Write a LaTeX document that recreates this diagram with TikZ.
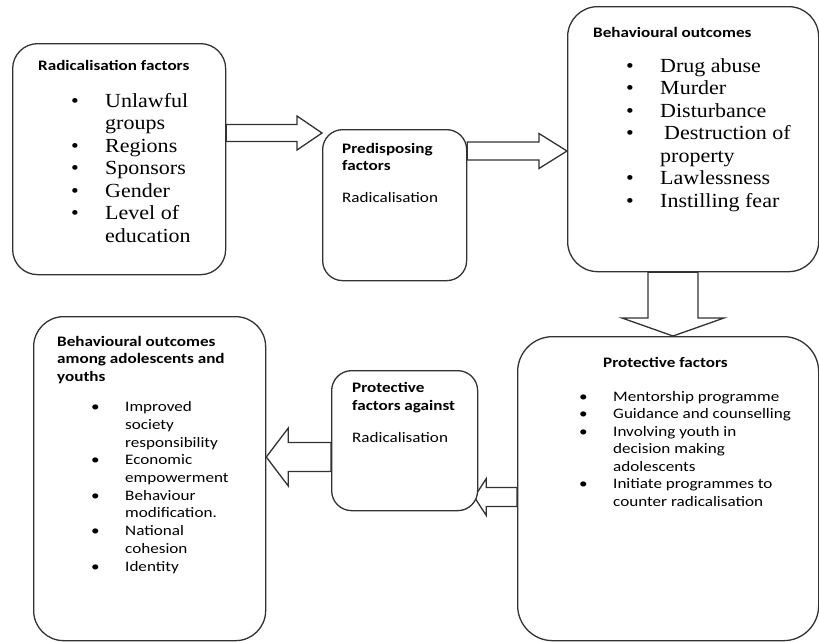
\documentclass[tikz,border=0pt]{standalone}
\usepackage{fontspec}
\setmainfont{Liberation Serif}[FakeStretch=1.1]
\newfontfamily\calib{Carlito}[FakeStretch=1.18]
\usepackage{tikz}
\usetikzlibrary{calc}
\usetikzlibrary{backgrounds}
\definecolor{boxgray}{RGB}{50,50,50}
\newlength\bulwd
\setlength\bulwd{34pt}
\newcommand\bul{\makebox[\bulwd][l]{\textbullet}}
\newcommand\ind{\hspace*{\bulwd}}
% block arrows: tail, tip, shaft half width, head half width, head length
\newcommand\blockarrowh[5]{\draw[blockarrow] let \p1=(#1), \p2=(#2) in
  (\x1,\y1+#3) -- (\x2-#5,\y1+#3) -- (\x2-#5,\y1+#4) -- (\x2,\y1)
  -- (\x2-#5,\y1-#4) -- (\x2-#5,\y1-#3) -- (\x1,\y1-#3) -- cycle;}
\newcommand\blockarrowv[5]{\draw[blockarrow] let \p1=(#1), \p2=(#2) in
  (\x1+#3,\y1) -- (\x1+#3,\y2+#5) -- (\x1+#4,\y2+#5) -- (\x1,\y2)
  -- (\x1-#4,\y2+#5) -- (\x1-#3,\y2+#5) -- (\x1-#3,\y1) -- cycle;}
% text nodes sit on the baseline of their last line
\tikzset{
  roundbox/.style={draw=boxgray, line width=1.3pt, fill=white, rounded corners=#1, anchor=north west, inner sep=0pt},
  blockarrow/.style={draw=boxgray, line width=1.3pt, fill=white, line join=miter},
  boxhead/.style={anchor=base west, align=left, inner sep=0pt, font={\calib\bfseries\fontsize{14.5}{#1}\selectfont}},
  sansbody/.style={anchor=base west, align=left, inner sep=0pt, font={\calib\fontsize{14.5}{#1}\selectfont}},
  serifbody/.style={anchor=base west, align=left, inner sep=0pt, font={\fontsize{20}{22.5}\selectfont}}
}

\begin{document}
\begin{tikzpicture}[x=1pt, y=-1pt]
\useasboundingbox (0,0) rectangle (819,641);
\clip (0,0) rectangle (819,641);

% boxes
\node[roundbox=25pt, minimum width=213pt, minimum height=231pt] (radfac) at (12,43) {};
\node[roundbox=20pt, minimum width=144pt, minimum height=151pt] (predis) at (322,129) {};
\node[roundbox=30pt, minimum width=251pt, minimum height=265pt] (behout) at (567,6) {};
\node[roundbox=35pt, minimum width=301pt, minimum height=304pt] (protfac) at (517,336) {};
\node[roundbox=20pt, minimum width=146pt, minimum height=140pt] (protag) at (331,370) {};
\node[roundbox=30pt, minimum width=232pt, minimum height=324pt] (youthout) at (33,316) {};

% arrow ends
\coordinate (radfacout) at ($(radfac.north east)+(0,90)$);
\coordinate (predisout) at ($(predis.north east)+(0,22)$);
\coordinate (behoutout) at ($(behout.south west)+(106,0)$);
\coordinate (protfacout) at ($(protfac.north west)+(0,161)$);
\coordinate (protagin) at ($(protag.east)+(-4,0)$);
\coordinate (protagout) at ($(protag.north west)+(0,87)$);

% block arrows behind the boxes
\begin{pgfonlayer}{background}
\blockarrowh{radfacout}{predis.west}{8.5pt}{17pt}{25pt}
\blockarrowh{predisout}{behout.west}{9pt}{17.5pt}{28pt}
\blockarrowv{behoutout}{protfac.north}{25pt}{51pt}{18pt}
\blockarrowh{protfacout}{protagin}{9.5pt}{18.5pt}{-12pt}
\blockarrowh{protagout}{youthout.east}{14.5pt}{29pt}{-22pt}
\end{pgfonlayer}

% radicalisation factors
\node[boxhead=17.5pt] (radfachead) at ([shift={(26,27)}]radfac.north west) {Radicalisation factors};
\node[serifbody] (radfaclist) at ([shift={(59,199)}]radfac.north west)
  {\bul Unlawful\\ \ind groups\\ \bul Regions\\ \bul Sponsors\\ \bul Gender\\ \bul Level of\\ \ind education};

% predisposing factors
\node[boxhead=17pt] (predishead) at ([shift={(20,41)}]predis.north west) {Predisposing\\factors};
\node[sansbody=17pt] (predistext) at ([shift={(20,73)}]predis.north west) {Radicalisation};

% behavioural outcomes
\node[boxhead=17.5pt] (behouthead) at ([shift={(26,31)}]behout.north west) {Behavioural outcomes};
\node[serifbody] (behoutlist) at ([shift={(59,201)}]behout.north west)
  {\bul Drug abuse\\ \bul Murder\\ \bul Disturbance\\ \bul \hspace{4pt}Destruction of\\ \ind property\\ \bul Lawlessness\\ \bul Instilling fear};

% protective factors
\node[boxhead=17.5pt] (protfachead) at ([shift={(86,31)}]protfac.north west) {Protective factors};
\node[sansbody=17.5pt] (protfaclist) at ([shift={(62,170)}]protfac.north west)
  {\bul Mentorship programme\\ \bul Guidance and counselling\\ \bul Involving youth in\\ \ind decision making\\ \ind adolescents\\ \bul Initiate programmes to\\ \ind counter radicalisation};

% protective factors against radicalisation
\node[boxhead=18pt] (protaghead) at ([shift={(21,40)}]protag.north west) {Protective\\factors against};
\node[sansbody=17pt] (protagtext) at ([shift={(21,72)}]protag.north west) {Radicalisation};

% outcomes among adolescents and youths
\node[boxhead=17.5pt] (youthhead) at ([shift={(24,65)}]youthout.north west) {Behavioural outcomes\\among adolescents and\\youths};
\node[sansbody=17.7pt] (youthlist) at ([shift={(58,255)}]youthout.north west)
  {\bul Improved\\ \ind society\\ \ind responsibility\\ \bul Economic\\ \ind empowerment\\ \bul Behaviour\\ \ind modification.\\ \bul National\\ \ind cohesion\\ \bul Identity};
\end{tikzpicture}
\end{document}
